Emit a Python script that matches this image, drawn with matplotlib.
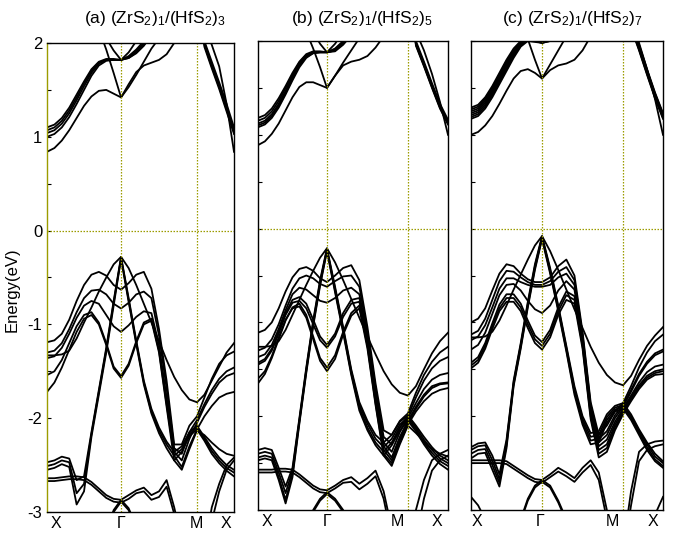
import matplotlib
matplotlib.use('Agg')
import matplotlib.pyplot as plt
import numpy as np

plt.rcParams['font.family'] = ['Liberation Sans', 'DejaVu Sans']
plt.rcParams['mathtext.fontset'] = 'custom'
plt.rcParams['mathtext.rm'] = 'Liberation Sans'
plt.rcParams['mathtext.it'] = 'Liberation Sans:italic'

# k-path nodes X - Gamma - M - X (fraction of panel width)
kpath_a = [0.0, 0.396, 0.802, 1.0]
kpath_b = [0.0, 0.363, 0.789, 1.0]
kpath_c = [0.0, 0.370, 0.792, 1.0]

kname = ['X', 'Γ', 'M', 'X']
klabel_a = [0.05, 0.396, 0.797, 0.955]
klabel_b = [0.045, 0.363, 0.735, 0.94]
klabel_c = [0.03, 0.36, 0.735, 0.95]

titles = [r'(a) (ZrS$_2$)$_1$/(HfS$_2$)$_3$',
          r'(b) (ZrS$_2$)$_1$/(HfS$_2$)$_5$',
          r'(c) (ZrS$_2$)$_1$/(HfS$_2$)$_7$']

# band energies (eV), 26 samples: 11 on X-G, 10 more on G-M, 5 more on M-X
cond_a = [
    [0.84, 0.88, 0.96, 1.07, 1.20, 1.33, 1.43, 1.49, 1.50, 1.46, 1.42, 1.56, 1.69, 1.76, 1.79, 1.82, 1.88, 2.00, 2.15, 2.30, 2.40, 2.20, 1.98, 1.75, 1.35, 0.84],
    [1.10, 1.13, 1.20, 1.31, 1.45, 1.59, 1.72, 1.80, 1.83, 1.83, 1.82, 1.86, 1.93, 2.02, 2.15, 2.30, 2.45, 2.60, 2.70, 2.75, 2.75, 2.02, 1.80, 1.58, 1.35, 1.10],
    [1.07, 1.10, 1.17, 1.28, 1.42, 1.57, 1.70, 1.79, 1.82, 1.82, 1.82, 1.85, 1.91, 2.00, 2.12, 2.28, 2.45, 2.60, 2.70, 2.75, 2.75, 2.00, 1.77, 1.55, 1.31, 1.07],
    [1.04, 1.07, 1.14, 1.25, 1.39, 1.54, 1.68, 1.78, 1.82, 1.82, 1.82, 1.84, 1.90, 1.98, 2.10, 2.26, 2.45, 2.60, 2.70, 2.75, 2.75, 1.98, 1.75, 1.53, 1.29, 1.05],
    [1.00, 1.03, 1.10, 1.21, 1.35, 1.50, 1.65, 1.76, 1.81, 1.82, 1.82, 1.84, 1.89, 1.97, 2.08, 2.24, 2.45, 2.60, 2.70, 2.75, 2.75, 1.96, 1.73, 1.51, 1.27, 1.03],
    [2.8, 2.8, 2.8, 2.8, 2.8, 2.6, 2.4, 2.15, 1.93, 1.68, 1.42, 1.53, 1.66, 1.80, 1.94, 2.05, 2.2, 2.4, 2.6, 2.8, 2.8, 2.8, 2.8, 2.8, 2.8, 2.8],
    [2.8, 2.8, 2.8, 2.8, 2.8, 2.8, 2.8, 2.3, 2.05, 1.92, 1.82, 1.90, 2.02, 2.2, 2.5, 2.8, 2.8, 2.8, 2.8, 2.8, 2.8, 2.8, 2.8, 2.8, 2.8, 2.8],
]
val_a = [
    [-1.33, -1.33, -1.32, -1.28, -1.15, -0.98, -0.82, -0.65, -0.50, -0.36, -0.28, -0.40, -0.58, -0.78, -0.98, -1.18, -1.38, -1.56, -1.70, -1.80, -1.83, -1.75, -1.60, -1.45, -1.30, -1.20],
    [-2.47, -2.45, -2.41, -2.43, -2.66, -2.62, -2.15, -1.70, -1.25, -0.75, -0.28, -0.72, -1.17, -1.60, -1.90, -2.10, -2.25, -2.36, -2.30, -2.15, -2.08, -2.20, -2.32, -2.42, -2.50, -2.55],
    [-2.51, -2.49, -2.45, -2.47, -2.80, -2.70, -2.17, -1.72, -1.27, -0.77, -0.29, -0.74, -1.19, -1.62, -1.93, -2.13, -2.28, -2.40, -2.33, -2.17, -2.10, -2.22, -2.35, -2.45, -2.53, -2.58],
    [-2.55, -2.53, -2.49, -2.52, -2.92, -2.78, -2.20, -1.75, -1.30, -0.80, -0.30, -0.76, -1.21, -1.64, -1.95, -2.16, -2.32, -2.45, -2.36, -2.19, -2.12, -2.24, -2.38, -2.48, -2.56, -2.62],
    [-2.64, -2.64, -2.63, -2.62, -2.62, -2.63, -2.68, -2.75, -2.82, -2.86, -2.87, -2.82, -2.77, -2.74, -2.82, -2.78, -2.66, -2.95, -3.30, -3.50, -3.50, -3.40, -2.95, -2.70, -2.50, -2.42],
    [-2.67, -2.67, -2.66, -2.65, -2.65, -2.66, -2.71, -2.78, -2.85, -2.89, -2.90, -2.86, -2.80, -2.78, -2.87, -2.84, -2.73, -3.02, -3.35, -3.50, -3.50, -3.45, -3.10, -2.78, -2.55, -2.45],
    [-3.5, -3.5, -3.5, -3.5, -3.5, -3.5, -3.5, -3.5, -3.20, -2.98, -2.87, -2.96, -3.15, -3.5, -3.5, -3.5, -3.5, -3.5, -3.5, -3.5, -3.5, -3.5, -3.5, -3.5, -3.5, -3.5],
    [-3.5, -3.5, -3.5, -3.5, -3.5, -3.5, -3.5, -3.5, -3.22, -3.00, -2.89, -2.98, -3.17, -3.5, -3.5, -3.5, -3.5, -3.5, -3.5, -3.5, -3.5, -3.5, -3.5, -3.5, -3.5, -3.5],
    [-1.19, -1.17, -1.10, -0.95, -0.75, -0.58, -0.47, -0.44, -0.48, -0.58, -0.63, -0.56, -0.47, -0.44, -0.62, -1.05, -1.60, -2.28, -2.28, -2.08, -1.98, -1.78, -1.58, -1.42, -1.33, -1.29],
    [-1.30, -1.28, -1.20, -1.05, -0.87, -0.72, -0.64, -0.63, -0.68, -0.78, -0.83, -0.77, -0.68, -0.65, -0.72, -1.12, -1.68, -2.32, -2.38, -2.15, -2.02, -1.85, -1.70, -1.58, -1.50, -1.46],
    [-1.36, -1.34, -1.25, -1.10, -0.93, -0.80, -0.75, -0.78, -0.90, -1.02, -1.08, -1.01, -0.92, -0.86, -0.88, -1.22, -1.78, -2.36, -2.45, -2.22, -2.05, -1.88, -1.74, -1.62, -1.55, -1.52],
    [-1.54, -1.50, -1.38, -1.20, -1.02, -0.90, -0.87, -0.98, -1.20, -1.45, -1.55, -1.42, -1.18, -0.98, -0.94, -1.28, -1.85, -2.40, -2.52, -2.30, -2.12, -1.98, -1.87, -1.78, -1.74, -1.72],
    [-1.72, -1.62, -1.46, -1.27, -1.08, -0.94, -0.90, -1.00, -1.22, -1.47, -1.57, -1.44, -1.20, -1.00, -0.96, -1.30, -1.88, -2.45, -2.55, -2.33, -2.13, -2.18, -2.26, -2.33, -2.38, -2.40],
]

cond_b = [
    [0.89, 0.93, 1.01, 1.12, 1.26, 1.40, 1.51, 1.56, 1.56, 1.53, 1.50, 1.63, 1.74, 1.78, 1.80, 1.84, 1.93, 2.05, 2.20, 2.30, 2.40, 2.10, 1.90, 1.65, 1.35, 1.00],
    [1.18, 1.21, 1.28, 1.39, 1.52, 1.66, 1.78, 1.86, 1.89, 1.89, 1.88, 1.92, 2.00, 2.12, 2.30, 2.50, 2.70, 2.80, 2.80, 2.80, 2.80, 2.00, 1.78, 1.55, 1.33, 1.16],
    [1.15, 1.18, 1.25, 1.36, 1.50, 1.64, 1.77, 1.85, 1.88, 1.88, 1.88, 1.91, 1.99, 2.10, 2.28, 2.50, 2.70, 2.80, 2.80, 2.80, 2.80, 1.98, 1.76, 1.53, 1.31, 1.14],
    [1.12, 1.15, 1.22, 1.33, 1.47, 1.62, 1.75, 1.84, 1.88, 1.88, 1.88, 1.90, 1.98, 2.08, 2.26, 2.50, 2.70, 2.80, 2.80, 2.80, 2.80, 1.97, 1.75, 1.52, 1.30, 1.13],
    [1.10, 1.13, 1.20, 1.31, 1.45, 1.60, 1.74, 1.83, 1.87, 1.88, 1.88, 1.90, 1.97, 2.07, 2.25, 2.50, 2.70, 2.80, 2.80, 2.80, 2.80, 1.96, 1.74, 1.51, 1.29, 1.12],
    [1.08, 1.11, 1.18, 1.29, 1.43, 1.58, 1.72, 1.82, 1.87, 1.88, 1.88, 1.89, 1.96, 2.06, 2.24, 2.50, 2.70, 2.80, 2.80, 2.80, 2.80, 1.95, 1.73, 1.50, 1.28, 1.11],
    [2.8, 2.8, 2.8, 2.8, 2.8, 2.8, 2.4, 2.1, 1.92, 1.72, 1.50, 1.63, 1.77, 1.90, 2.03, 2.2, 2.5, 2.8, 2.8, 2.8, 2.8, 2.8, 2.8, 2.8, 2.8, 2.8],
    [2.8, 2.8, 2.8, 2.8, 2.8, 2.8, 2.8, 2.8, 2.1, 1.97, 1.88, 1.97, 2.1, 2.8, 2.8, 2.8, 2.8, 2.8, 2.8, 2.8, 2.8, 2.8, 2.8, 2.8, 2.8, 2.8],
]
val_b = [
    [-1.26, -1.26, -1.25, -1.20, -1.08, -0.92, -0.76, -0.60, -0.45, -0.31, -0.21, -0.36, -0.55, -0.75, -0.95, -1.15, -1.34, -1.52, -1.66, -1.75, -1.78, -1.68, -1.50, -1.33, -1.20, -1.11],
    [-2.36, -2.34, -2.36, -2.55, -2.75, -2.55, -2.02, -1.48, -0.98, -0.55, -0.21, -0.62, -1.05, -1.50, -1.85, -2.05, -2.20, -2.28, -2.20, -2.06, -1.99, -2.10, -2.22, -2.33, -2.42, -2.47],
    [-2.40, -2.38, -2.40, -2.60, -2.82, -2.58, -2.04, -1.50, -1.00, -0.57, -0.22, -0.64, -1.07, -1.52, -1.88, -2.08, -2.24, -2.33, -2.24, -2.09, -2.01, -2.12, -2.25, -2.36, -2.45, -2.50],
    [-2.44, -2.42, -2.44, -2.65, -2.89, -2.62, -2.06, -1.52, -1.02, -0.59, -0.23, -0.66, -1.09, -1.54, -1.91, -2.12, -2.28, -2.38, -2.28, -2.12, -2.03, -2.14, -2.28, -2.39, -2.48, -2.53],
    [-2.47, -2.45, -2.47, -2.68, -2.93, -2.65, -2.08, -1.54, -1.04, -0.61, -0.24, -0.68, -1.11, -1.56, -1.94, -2.15, -2.31, -2.42, -2.31, -2.15, -2.05, -2.16, -2.30, -2.42, -2.51, -2.57],
    [-2.57, -2.57, -2.57, -2.56, -2.56, -2.57, -2.62, -2.68, -2.74, -2.78, -2.79, -2.74, -2.68, -2.65, -2.72, -2.66, -2.58, -2.80, -3.20, -3.50, -3.50, -3.00, -2.68, -2.47, -2.40, -2.36],
    [-2.60, -2.60, -2.60, -2.59, -2.59, -2.60, -2.65, -2.71, -2.77, -2.81, -2.82, -2.77, -2.71, -2.70, -2.78, -2.72, -2.64, -2.88, -3.30, -3.50, -3.50, -3.30, -2.88, -2.58, -2.47, -2.42],
    [-3.5, -3.5, -3.5, -3.5, -3.5, -3.5, -3.5, -3.5, -3.00, -2.88, -2.81, -2.88, -3.00, -3.5, -3.5, -3.5, -3.5, -3.5, -3.5, -3.5, -3.5, -3.5, -3.5, -3.5, -3.5, -3.5],
    [-3.5, -3.5, -3.5, -3.5, -3.5, -3.5, -3.5, -3.5, -3.02, -2.90, -2.83, -2.90, -3.02, -3.5, -3.5, -3.5, -3.5, -3.5, -3.5, -3.5, -3.5, -3.5, -3.5, -3.5, -3.5, -3.5],
    [-1.11, -1.08, -1.00, -0.85, -0.67, -0.52, -0.43, -0.41, -0.45, -0.53, -0.57, -0.50, -0.42, -0.39, -0.55, -1.05, -1.65, -2.15, -2.20, -2.05, -1.97, -1.75, -1.56, -1.42, -1.32, -1.26],
    [-1.30, -1.27, -1.18, -1.02, -0.82, -0.64, -0.53, -0.50, -0.53, -0.59, -0.62, -0.56, -0.51, -0.50, -0.62, -1.10, -1.70, -2.22, -2.30, -2.12, -2.00, -1.80, -1.62, -1.49, -1.41, -1.37],
    [-1.37, -1.34, -1.24, -1.07, -0.87, -0.70, -0.63, -0.65, -0.71, -0.77, -0.79, -0.74, -0.66, -0.63, -0.70, -1.15, -1.75, -2.28, -2.38, -2.17, -2.02, -1.86, -1.71, -1.61, -1.56, -1.54],
    [-1.43, -1.39, -1.28, -1.10, -0.90, -0.76, -0.73, -0.80, -0.97, -1.15, -1.24, -1.12, -0.90, -0.76, -0.74, -1.18, -1.80, -2.32, -2.44, -2.22, -2.05, -1.90, -1.77, -1.68, -1.65, -1.64],
    [-1.45, -1.41, -1.30, -1.12, -0.92, -0.79, -0.77, -0.85, -1.02, -1.19, -1.27, -1.15, -0.94, -0.80, -0.78, -1.22, -1.83, -2.36, -2.47, -2.25, -2.07, -1.92, -1.79, -1.70, -1.66, -1.65],
    [-1.65, -1.55, -1.38, -1.18, -0.98, -0.84, -0.80, -0.92, -1.15, -1.38, -1.48, -1.35, -1.10, -0.90, -0.82, -1.25, -1.86, -2.40, -2.50, -2.28, -2.09, -1.95, -1.84, -1.76, -1.72, -1.70],
    [-1.60, -1.52, -1.36, -1.16, -0.97, -0.85, -0.83, -0.95, -1.18, -1.41, -1.52, -1.39, -1.13, -0.93, -0.85, -1.28, -1.88, -2.42, -2.53, -2.30, -2.10, -2.18, -2.27, -2.35, -2.40, -2.43],
]

cond_c = [
    [1.00, 1.03, 1.10, 1.20, 1.33, 1.47, 1.60, 1.68, 1.70, 1.66, 1.60, 1.69, 1.74, 1.76, 1.80, 1.90, 2.05, 2.20, 2.35, 2.50, 2.60, 2.30, 1.98, 1.70, 1.38, 1.00],
    [1.29, 1.32, 1.40, 1.52, 1.66, 1.80, 1.92, 2.00, 2.06, 2.04, 2.00, 2.05, 2.15, 2.30, 2.50, 2.80, 2.80, 2.80, 2.80, 2.80, 2.80, 2.20, 1.96, 1.70, 1.45, 1.23],
    [1.27, 1.30, 1.38, 1.50, 1.64, 1.78, 1.90, 1.99, 2.05, 2.03, 2.00, 2.04, 2.14, 2.30, 2.50, 2.80, 2.80, 2.80, 2.80, 2.80, 2.80, 2.19, 1.95, 1.69, 1.44, 1.22],
    [1.25, 1.28, 1.36, 1.48, 1.62, 1.76, 1.88, 1.98, 2.04, 2.02, 1.99, 2.03, 2.13, 2.30, 2.50, 2.80, 2.80, 2.80, 2.80, 2.80, 2.80, 2.18, 1.94, 1.68, 1.43, 1.21],
    [1.23, 1.26, 1.34, 1.46, 1.60, 1.74, 1.87, 1.97, 2.03, 2.01, 1.99, 2.02, 2.12, 2.30, 2.50, 2.80, 2.80, 2.80, 2.80, 2.80, 2.80, 2.17, 1.93, 1.67, 1.42, 1.20],
    [1.21, 1.24, 1.32, 1.44, 1.58, 1.72, 1.85, 1.96, 2.02, 2.00, 1.98, 2.01, 2.11, 2.30, 2.50, 2.80, 2.80, 2.80, 2.80, 2.80, 2.80, 2.16, 1.92, 1.66, 1.41, 1.19],
    [1.19, 1.22, 1.30, 1.42, 1.56, 1.70, 1.84, 1.95, 2.01, 2.00, 1.98, 2.00, 2.10, 2.30, 2.50, 2.80, 2.80, 2.80, 2.80, 2.80, 2.80, 2.15, 1.91, 1.65, 1.40, 1.18],
    [1.17, 1.20, 1.28, 1.40, 1.54, 1.68, 1.82, 1.94, 2.00, 1.99, 1.98, 2.00, 2.10, 2.30, 2.50, 2.80, 2.80, 2.80, 2.80, 2.80, 2.80, 2.14, 1.90, 1.64, 1.39, 1.17],
    [2.8, 2.8, 2.8, 2.8, 2.8, 2.8, 2.8, 2.3, 2.02, 1.80, 1.60, 1.75, 1.90, 2.05, 2.3, 2.8, 2.8, 2.8, 2.8, 2.8, 2.8, 2.8, 2.8, 2.8, 2.8, 2.8],
]
val_c = [
    [-1.16, -1.16, -1.15, -1.10, -0.98, -0.82, -0.65, -0.49, -0.33, -0.18, -0.08, -0.24, -0.44, -0.65, -0.86, -1.06, -1.26, -1.43, -1.56, -1.64, -1.67, -1.57, -1.40, -1.25, -1.14, -1.05],
    [-2.33, -2.29, -2.28, -2.42, -2.62, -2.25, -1.62, -1.22, -0.78, -0.38, -0.08, -0.42, -0.82, -1.25, -1.68, -2.00, -2.18, -2.16, -1.98, -1.89, -1.86, -1.98, -2.14, -2.28, -2.40, -2.48],
    [-2.36, -2.32, -2.31, -2.47, -2.67, -2.28, -1.64, -1.24, -0.80, -0.40, -0.09, -0.44, -0.84, -1.27, -1.71, -2.03, -2.22, -2.20, -2.01, -1.91, -1.88, -2.00, -2.16, -2.30, -2.43, -2.50],
    [-2.40, -2.36, -2.35, -2.52, -2.71, -2.31, -1.66, -1.26, -0.82, -0.42, -0.10, -0.46, -0.86, -1.29, -1.74, -2.06, -2.26, -2.24, -2.04, -1.93, -1.90, -2.02, -2.18, -2.33, -2.46, -2.53],
    [-2.45, -2.40, -2.39, -2.57, -2.75, -2.34, -1.68, -1.28, -0.84, -0.44, -0.11, -0.48, -0.88, -1.31, -1.77, -2.09, -2.30, -2.28, -2.07, -1.95, -1.92, -2.04, -2.20, -2.36, -2.48, -2.55],
    [-2.47, -2.47, -2.47, -2.47, -2.47, -2.48, -2.53, -2.58, -2.63, -2.67, -2.68, -2.62, -2.55, -2.60, -2.66, -2.55, -2.47, -2.60, -3.00, -3.50, -3.40, -2.80, -2.38, -2.30, -2.27, -2.26],
    [-2.50, -2.50, -2.50, -2.50, -2.50, -2.51, -2.56, -2.61, -2.66, -2.70, -2.71, -2.65, -2.59, -2.64, -2.70, -2.60, -2.52, -2.68, -3.10, -3.50, -3.50, -2.95, -2.48, -2.36, -2.32, -2.30],
    [-3.5, -3.5, -3.5, -3.5, -3.5, -3.5, -3.5, -3.10, -2.88, -2.74, -2.68, -2.74, -2.90, -3.10, -3.5, -3.5, -3.5, -3.5, -3.5, -3.5, -3.5, -3.5, -3.5, -3.5, -3.5, -3.5],
    [-3.5, -3.5, -3.5, -3.5, -3.5, -3.5, -3.5, -3.12, -2.90, -2.76, -2.70, -2.76, -2.92, -3.12, -3.5, -3.5, -3.5, -3.5, -3.5, -3.5, -3.5, -3.5, -3.5, -3.5, -3.5, -3.5],
    [-2.86, -2.95, -3.10, -3.5, -3.5, -3.5, -3.5, -3.5, -3.5, -3.5, -3.5, -3.5, -3.5, -3.5, -3.5, -3.5, -3.5, -3.5, -3.5, -3.5, -3.5, -3.5, -3.5, -3.5, -3.05, -2.86],
    [-1.00, -0.96, -0.85, -0.66, -0.48, -0.38, -0.40, -0.48, -0.54, -0.57, -0.57, -0.52, -0.40, -0.33, -0.50, -1.10, -1.85, -2.20, -2.10, -1.95, -1.86, -1.68, -1.48, -1.32, -1.20, -1.13],
    [-1.13, -1.09, -0.96, -0.76, -0.56, -0.45, -0.46, -0.52, -0.57, -0.60, -0.60, -0.56, -0.46, -0.41, -0.55, -1.13, -1.88, -2.24, -2.16, -1.99, -1.88, -1.72, -1.55, -1.42, -1.33, -1.29],
    [-1.19, -1.15, -1.03, -0.84, -0.64, -0.53, -0.53, -0.57, -0.60, -0.62, -0.62, -0.60, -0.52, -0.48, -0.60, -1.16, -1.91, -2.28, -2.20, -2.02, -1.90, -1.74, -1.57, -1.44, -1.35, -1.31],
    [-1.29, -1.24, -1.11, -0.91, -0.71, -0.60, -0.59, -0.66, -0.77, -0.86, -0.90, -0.82, -0.66, -0.56, -0.65, -1.19, -1.94, -2.32, -2.25, -2.06, -1.92, -1.78, -1.64, -1.53, -1.47, -1.45],
    [-1.43, -1.37, -1.22, -1.01, -0.81, -0.70, -0.70, -0.80, -0.98, -1.14, -1.21, -1.08, -0.84, -0.67, -0.72, -1.22, -1.97, -2.36, -2.30, -2.09, -1.94, -1.80, -1.67, -1.57, -1.52, -1.50],
    [-1.46, -1.40, -1.25, -1.04, -0.85, -0.74, -0.74, -0.84, -1.02, -1.18, -1.25, -1.12, -0.88, -0.71, -0.76, -1.25, -2.00, -2.40, -2.34, -2.12, -1.96, -1.82, -1.69, -1.59, -1.54, -1.52],
    [-1.49, -1.43, -1.28, -1.07, -0.88, -0.78, -0.78, -0.88, -1.06, -1.22, -1.29, -1.16, -0.92, -0.76, -0.80, -1.28, -2.03, -2.44, -2.38, -2.15, -1.98, -1.84, -1.71, -1.61, -1.56, -1.55],
]

guide = '#9c9c00'


def kgrid(nodes):
    g, m = nodes[1], nodes[2]
    return np.concatenate([np.linspace(0, g, 11), np.linspace(g, m, 11)[1:], np.linspace(m, 1, 6)[1:]])


def draw_panel(ax, nodes, cond, val, lab_pos, title_x, title):
    k = kgrid(nodes)
    for e in cond + val:
        ax.plot(k, e, c='black', lw=1.3, solid_joinstyle='round')
    for x in nodes[1:3]:
        ax.axvline(x, color=guide, lw=0.9, ls=(0, (1.2, 1.2)))
    ax.axhline(0, color=guide, lw=0.9, ls=(0, (1.2, 1.2)))
    ax.set_xlim(0, 1)
    ax.set_ylim(-3, 2)
    ax.set_xticks(lab_pos)
    ax.set_xticklabels(kname, fontsize=11.5)
    ax.tick_params(axis='x', length=0, pad=3)
    ax.set_yticks([-3, -2, -1, 0, 1, 2])
    ax.set_yticks(np.arange(-3, 2.01, 0.5), minor=True)
    ax.tick_params(axis='y', which='both', direction='in', length=3, width=0.8)
    for s in ax.spines.values():
        s.set_linewidth(1.0)
    fig.text(title_x, 0.965, title, ha='center', va='center', fontsize=12.5)


fig = plt.figure(figsize=(6.73, 5.35), dpi=100)

ax1 = fig.add_axes([47 / 673, 1 - 512 / 535, 187 / 673, 469 / 535])
ax2 = fig.add_axes([258 / 673, 1 - 510 / 535, 190 / 673, 469 / 535])
ax3 = fig.add_axes([471 / 673, 1 - 510 / 535, 192 / 673, 469 / 535])

draw_panel(ax1, kpath_a, cond_a, val_a, klabel_a, 155 / 673, titles[0])
draw_panel(ax2, kpath_b, cond_b, val_b, klabel_b, 362 / 673, titles[1])
draw_panel(ax3, kpath_c, cond_c, val_c, klabel_c, 572 / 673, titles[2])

ax1.set_yticklabels(['-3', '-2', '-1', '0', '1', '2'], fontsize=12)
ax1.spines['left'].set_color(guide)
ax2.set_yticklabels([])
ax3.set_yticklabels([])

fig.text(12 / 673, 1 - 290 / 535, 'Energy(eV)', rotation=90, ha='center', va='center', fontsize=12)

fig.savefig('out.png', dpi=100)
